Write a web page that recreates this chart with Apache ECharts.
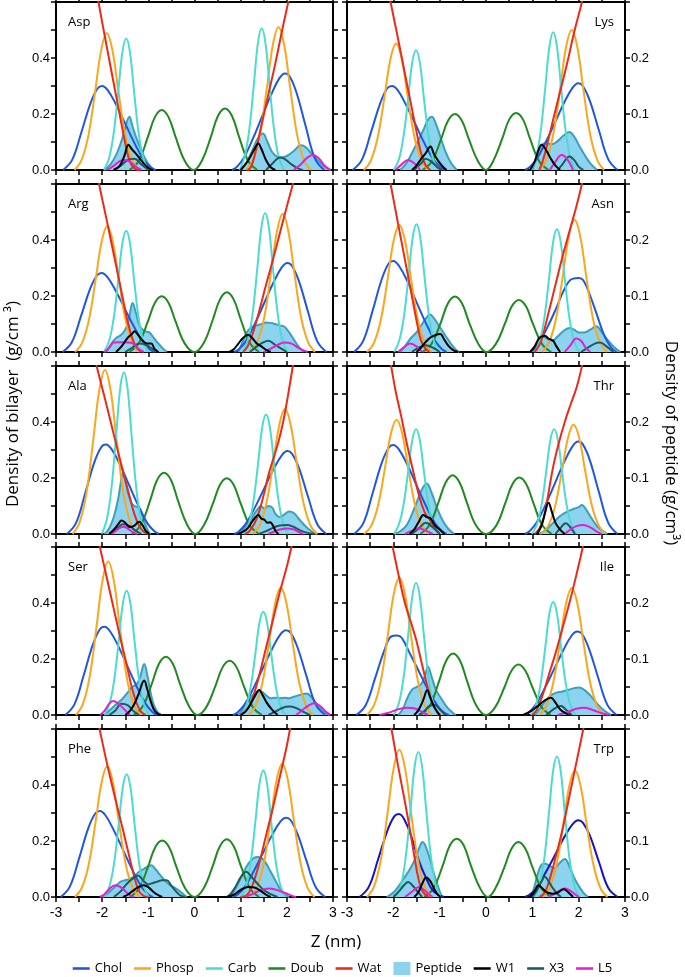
<!DOCTYPE html>
<html><head><meta charset="utf-8">
<script src="https://cdn.jsdelivr.net/npm/echarts@6/dist/echarts.min.js"></script>
<style>html,body{margin:0;padding:0;background:#fff}#c{width:685px;height:977px}</style>
</head><body><div id="c"></div>
<script>
// Panel order: left column / right column, top to bottom
const panelNames = ['Asp','Lys','Arg','Asn','Ala','Thr','Ser','Ile','Phe','Trp'];
const zRange = [-3, 3];
const bilayerRange = [0, 0.6];   // left axis, g/cm3
const peptideRange = [0, 0.3];   // right axis, g/cm3
const legendNames = ['Chol','Phosp','Carb','Doub','Wat','Peptide','W1','X3','L5'];

// Each entry: [left leaflet points, right leaflet points], points = [z (nm), density]
const chol = [
 [[[-2.85,0],[-2.65,0.036],[-2.45,0.135],[-2.25,0.24],[-2.1,0.291],[-2.0,0.3],[-1.88,0.285],[-1.7,0.234],[-1.5,0.165],[-1.3,0.096],[-1.1,0.036],[-0.95,0.009],[-0.85,0]],
  [[0.81,0],[0.91,0.01],[1.06,0.041],[1.26,0.11],[1.46,0.19],[1.66,0.269],[1.84,0.328],[1.96,0.345],[2.06,0.335],[2.21,0.276],[2.41,0.155],[2.61,0.041],[2.81,0]]],
 [[[-2.88,0],[-2.68,0.018],[-2.48,0.068],[-2.28,0.12],[-2.13,0.146],[-2.03,0.15],[-1.91,0.143],[-1.73,0.117],[-1.53,0.083],[-1.33,0.048],[-1.13,0.018],[-0.98,0.005],[-0.88,0]],
  [[0.84,0],[0.94,0.005],[1.09,0.019],[1.29,0.05],[1.49,0.085],[1.69,0.121],[1.87,0.147],[1.99,0.155],[2.09,0.15],[2.24,0.124],[2.44,0.07],[2.64,0.019],[2.84,0]]],
 [[[-2.86,0],[-2.66,0.034],[-2.46,0.127],[-2.26,0.226],[-2.11,0.274],[-2.01,0.282],[-1.89,0.268],[-1.71,0.22],[-1.51,0.155],[-1.31,0.09],[-1.11,0.034],[-0.96,0.008],[-0.86,0]],
  [[0.86,0],[0.96,0.01],[1.11,0.038],[1.31,0.102],[1.51,0.175],[1.71,0.248],[1.89,0.302],[2.01,0.318],[2.11,0.308],[2.26,0.254],[2.46,0.143],[2.66,0.038],[2.86,0]]],
 [[[-2.85,0],[-2.65,0.02],[-2.45,0.073],[-2.25,0.13],[-2.1,0.158],[-2.0,0.1625],[-1.88,0.154],[-1.7,0.127],[-1.5,0.089],[-1.3,0.052],[-1.1,0.02],[-0.95,0.005],[-0.85,0]],
  [[0.95,0],[1.1,0.01],[1.3,0.04],[1.5,0.075],[1.65,0.105],[1.78,0.125],[1.88,0.131],[2.0,0.132],[2.1,0.128],[2.25,0.1],[2.4,0.065],[2.55,0.03],[2.7,0.008],[2.82,0]]],
 [[[-2.77,0],[-2.57,0.038],[-2.37,0.144],[-2.17,0.256],[-2.02,0.31],[-1.92,0.32],[-1.8,0.304],[-1.62,0.25],[-1.42,0.176],[-1.22,0.102],[-1.02,0.038],[-0.87,0.01],[-0.77,0]],
  [[0.86,0],[0.96,0.009],[1.11,0.036],[1.31,0.095],[1.51,0.163],[1.71,0.231],[1.89,0.281],[2.01,0.296],[2.11,0.287],[2.26,0.237],[2.46,0.133],[2.66,0.035],[2.86,0]]],
 [[[-2.85,0],[-2.65,0.019],[-2.45,0.072],[-2.25,0.127],[-2.1,0.154],[-2.0,0.159],[-1.88,0.151],[-1.7,0.124],[-1.5,0.087],[-1.3,0.051],[-1.1,0.019],[-0.95,0.005],[-0.85,0]],
  [[0.84,0],[0.94,0.005],[1.09,0.02],[1.29,0.053],[1.49,0.091],[1.69,0.129],[1.87,0.157],[1.99,0.165],[2.09,0.16],[2.24,0.132],[2.44,0.074],[2.64,0.02],[2.84,0]]],
 [[[-2.8,0],[-2.6,0.038],[-2.4,0.142],[-2.2,0.252],[-2.05,0.306],[-1.95,0.315],[-1.83,0.299],[-1.65,0.246],[-1.45,0.173],[-1.25,0.101],[-1.05,0.038],[-0.9,0.009],[-0.8,0]],
  [[0.83,0],[0.93,0.009],[1.08,0.036],[1.28,0.097],[1.48,0.167],[1.68,0.236],[1.86,0.288],[1.98,0.303],[2.08,0.294],[2.23,0.242],[2.43,0.136],[2.63,0.036],[2.83,0]]],
 [[[-2.8,0],[-2.6,0.017],[-2.4,0.064],[-2.2,0.114],[-2.05,0.14],[-1.92,0.142],[-1.82,0.138],[-1.65,0.111],[-1.45,0.078],[-1.25,0.045],[-1.05,0.017],[-0.9,0.004],[-0.8,0]],
  [[0.82,0],[0.92,0.004],[1.07,0.018],[1.27,0.048],[1.47,0.082],[1.67,0.116],[1.85,0.142],[1.97,0.149],[2.07,0.145],[2.22,0.119],[2.42,0.067],[2.62,0.018],[2.82,0]]],
 [[[-2.9,0],[-2.7,0.037],[-2.5,0.138],[-2.3,0.246],[-2.15,0.298],[-2.05,0.307],[-1.93,0.292],[-1.75,0.239],[-1.55,0.169],[-1.35,0.098],[-1.15,0.037],[-1.0,0.009],[-0.9,0]],
  [[0.83,0],[0.93,0.008],[1.08,0.034],[1.28,0.091],[1.48,0.156],[1.68,0.221],[1.86,0.269],[1.98,0.283],[2.08,0.275],[2.23,0.226],[2.43,0.127],[2.63,0.034],[2.83,0]]],
 [[[-2.73,0],[-2.53,0.018],[-2.33,0.067],[-2.13,0.118],[-1.98,0.144],[-1.88,0.148],[-1.76,0.138],[-1.6,0.105],[-1.45,0.065],[-1.3,0.035],[-1.15,0.012],[-1.0,0.003],[-0.9,0]],
  [[0.84,0],[0.94,0.004],[1.09,0.016],[1.29,0.044],[1.49,0.075],[1.69,0.107],[1.87,0.13],[1.99,0.137],[2.09,0.133],[2.24,0.11],[2.44,0.062],[2.64,0.016],[2.84,0]]]
];

const phosp = [
 [[[-2.6,0],[-2.45,0.034],[-2.3,0.122],[-2.15,0.283],[-2.02,0.429],[-1.9,0.488],[-1.78,0.429],[-1.65,0.283],[-1.5,0.122],[-1.35,0.034],[-1.2,0]],
  [[1.12,0],[1.27,0.036],[1.42,0.128],[1.57,0.296],[1.7,0.449],[1.82,0.51],[1.94,0.449],[2.07,0.296],[2.22,0.128],[2.37,0.036],[2.52,0]]],
 [[[-2.64,0],[-2.49,0.016],[-2.34,0.057],[-2.19,0.131],[-2.06,0.199],[-1.94,0.226],[-1.82,0.199],[-1.69,0.131],[-1.54,0.057],[-1.39,0.016],[-1.24,0]],
  [[1.15,0],[1.3,0.018],[1.45,0.063],[1.6,0.145],[1.73,0.22],[1.85,0.25],[1.97,0.22],[2.1,0.145],[2.25,0.063],[2.4,0.018],[2.55,0]]],
 [[[-2.59,0],[-2.44,0.031],[-2.29,0.112],[-2.14,0.26],[-2.01,0.395],[-1.89,0.449],[-1.77,0.395],[-1.64,0.26],[-1.49,0.112],[-1.34,0.031],[-1.19,0]],
  [[1.21,0],[1.36,0.035],[1.51,0.123],[1.66,0.286],[1.79,0.434],[1.91,0.493],[2.03,0.434],[2.16,0.286],[2.31,0.123],[2.46,0.035],[2.61,0]]],
 [[[-2.57,0],[-2.42,0.016],[-2.27,0.057],[-2.12,0.132],[-1.99,0.2],[-1.87,0.227],[-1.75,0.2],[-1.62,0.132],[-1.47,0.057],[-1.32,0.016],[-1.17,0]],
  [[1.21,0],[1.36,0.017],[1.51,0.059],[1.66,0.137],[1.79,0.208],[1.91,0.236],[2.03,0.208],[2.16,0.137],[2.31,0.059],[2.46,0.017],[2.61,0]]],
 [[[-2.64,0],[-2.49,0.041],[-2.34,0.147],[-2.19,0.34],[-2.06,0.516],[-1.94,0.586],[-1.82,0.516],[-1.69,0.34],[-1.54,0.147],[-1.39,0.041],[-1.24,0]],
  [[1.26,0],[1.41,0.031],[1.56,0.112],[1.71,0.259],[1.84,0.392],[1.96,0.446],[2.08,0.392],[2.21,0.259],[2.36,0.112],[2.51,0.031],[2.66,0]]],
 [[[-2.63,0],[-2.48,0.014],[-2.33,0.051],[-2.18,0.118],[-2.05,0.18],[-1.93,0.204],[-1.81,0.18],[-1.68,0.118],[-1.53,0.051],[-1.38,0.014],[-1.23,0]],
  [[1.19,0],[1.34,0.014],[1.49,0.049],[1.64,0.113],[1.77,0.172],[1.89,0.195],[2.01,0.172],[2.14,0.113],[2.29,0.049],[2.44,0.014],[2.59,0]]],
 [[[-2.57,0],[-2.42,0.038],[-2.27,0.137],[-2.12,0.318],[-1.99,0.482],[-1.87,0.548],[-1.75,0.482],[-1.62,0.318],[-1.47,0.137],[-1.32,0.038],[-1.17,0]],
  [[1.17,0],[1.32,0.032],[1.47,0.114],[1.62,0.264],[1.75,0.4],[1.87,0.455],[1.99,0.4],[2.12,0.264],[2.27,0.114],[2.42,0.032],[2.57,0]]],
 [[[-2.57,0],[-2.42,0.017],[-2.27,0.061],[-2.12,0.142],[-1.99,0.216],[-1.87,0.245],[-1.75,0.216],[-1.62,0.142],[-1.47,0.061],[-1.32,0.017],[-1.17,0]],
  [[1.15,0],[1.3,0.016],[1.45,0.057],[1.6,0.132],[1.73,0.2],[1.85,0.227],[1.97,0.2],[2.1,0.132],[2.25,0.057],[2.4,0.016],[2.55,0]]],
 [[[-2.59,0],[-2.44,0.033],[-2.29,0.117],[-2.14,0.271],[-2.01,0.411],[-1.89,0.467],[-1.77,0.411],[-1.64,0.271],[-1.49,0.117],[-1.34,0.033],[-1.19,0]],
  [[1.2,0],[1.35,0.033],[1.5,0.119],[1.65,0.276],[1.78,0.419],[1.9,0.476],[2.02,0.419],[2.15,0.276],[2.3,0.119],[2.45,0.033],[2.6,0]]],
 [[[-2.57,0],[-2.42,0.018],[-2.27,0.066],[-2.12,0.153],[-1.99,0.231],[-1.87,0.263],[-1.75,0.231],[-1.62,0.153],[-1.47,0.066],[-1.32,0.018],[-1.17,0]],
  [[1.22,0],[1.37,0.016],[1.52,0.057],[1.67,0.131],[1.8,0.199],[1.92,0.226],[2.04,0.199],[2.17,0.131],[2.32,0.057],[2.47,0.016],[2.62,0]]]
];

const carb = [
 [[[-1.96,0],[-1.85,0.042],[-1.75,0.132],[-1.65,0.282],[-1.56,0.423],[-1.48,0.47],[-1.4,0.423],[-1.31,0.282],[-1.21,0.132],[-1.11,0.042],[-1.0,0]],
  [[0.975,0],[1.085,0.046],[1.185,0.142],[1.285,0.304],[1.375,0.455],[1.455,0.506],[1.535,0.455],[1.625,0.304],[1.725,0.142],[1.825,0.046],[1.935,0]]],
 [[[-1.99,0],[-1.88,0.019],[-1.78,0.06],[-1.68,0.128],[-1.59,0.193],[-1.51,0.214],[-1.43,0.193],[-1.34,0.128],[-1.24,0.06],[-1.14,0.019],[-1.03,0]],
  [[0.97,0],[1.08,0.022],[1.18,0.069],[1.28,0.148],[1.37,0.221],[1.45,0.246],[1.53,0.221],[1.62,0.148],[1.72,0.069],[1.82,0.022],[1.93,0]]],
 [[[-1.96,0],[-1.85,0.039],[-1.75,0.121],[-1.65,0.26],[-1.56,0.39],[-1.48,0.433],[-1.4,0.39],[-1.31,0.26],[-1.21,0.121],[-1.11,0.039],[-1.0,0]],
  [[1.05,0],[1.16,0.045],[1.26,0.139],[1.36,0.298],[1.45,0.446],[1.53,0.496],[1.61,0.446],[1.7,0.298],[1.8,0.139],[1.9,0.045],[2.01,0]]],
 [[[-1.98,0],[-1.87,0.021],[-1.77,0.064],[-1.67,0.137],[-1.58,0.205],[-1.5,0.228],[-1.42,0.205],[-1.33,0.137],[-1.23,0.064],[-1.13,0.021],[-1.02,0]],
  [[1.05,0],[1.16,0.02],[1.26,0.061],[1.36,0.131],[1.45,0.197],[1.53,0.219],[1.61,0.197],[1.7,0.131],[1.8,0.061],[1.9,0.02],[2.01,0]]],
 [[[-2.01,0],[-1.9,0.052],[-1.8,0.162],[-1.7,0.346],[-1.61,0.519],[-1.53,0.577],[-1.45,0.519],[-1.36,0.346],[-1.26,0.162],[-1.16,0.052],[-1.05,0]],
  [[1.07,0],[1.18,0.038],[1.28,0.12],[1.38,0.256],[1.47,0.384],[1.55,0.427],[1.63,0.384],[1.72,0.256],[1.82,0.12],[1.92,0.038],[2.03,0]]],
 [[[-1.99,0],[-1.88,0.017],[-1.78,0.052],[-1.68,0.112],[-1.59,0.168],[-1.51,0.187],[-1.43,0.168],[-1.34,0.112],[-1.24,0.052],[-1.14,0.017],[-1.03,0]],
  [[0.99,0],[1.1,0.017],[1.2,0.052],[1.3,0.112],[1.39,0.168],[1.47,0.187],[1.55,0.168],[1.64,0.112],[1.74,0.052],[1.84,0.017],[1.95,0]]],
 [[[-1.95,0],[-1.84,0.04],[-1.74,0.124],[-1.64,0.266],[-1.55,0.4],[-1.47,0.444],[-1.39,0.4],[-1.3,0.266],[-1.2,0.124],[-1.1,0.04],[-0.99,0]],
  [[1.01,0],[1.12,0.033],[1.22,0.103],[1.32,0.221],[1.41,0.332],[1.49,0.369],[1.57,0.332],[1.66,0.221],[1.76,0.103],[1.86,0.033],[1.97,0]]],
 [[[-1.99,0],[-1.88,0.021],[-1.78,0.066],[-1.68,0.142],[-1.59,0.212],[-1.51,0.236],[-1.43,0.212],[-1.34,0.142],[-1.24,0.066],[-1.14,0.021],[-1.03,0]],
  [[0.97,0],[1.08,0.018],[1.18,0.057],[1.28,0.121],[1.37,0.182],[1.45,0.202],[1.53,0.182],[1.62,0.121],[1.72,0.057],[1.82,0.018],[1.93,0]]],
 [[[-1.95,0],[-1.84,0.039],[-1.74,0.123],[-1.64,0.263],[-1.55,0.394],[-1.47,0.438],[-1.39,0.394],[-1.3,0.263],[-1.2,0.123],[-1.1,0.039],[-0.99,0]],
  [[1.01,0],[1.12,0.041],[1.22,0.127],[1.32,0.271],[1.41,0.407],[1.49,0.452],[1.57,0.407],[1.66,0.271],[1.76,0.127],[1.86,0.041],[1.97,0]]],
 [[[-1.94,0],[-1.83,0.023],[-1.73,0.073],[-1.63,0.155],[-1.54,0.233],[-1.46,0.259],[-1.38,0.233],[-1.29,0.155],[-1.19,0.073],[-1.09,0.023],[-0.98,0]],
  [[1.05,0],[1.16,0.023],[1.26,0.07],[1.36,0.151],[1.45,0.226],[1.53,0.251],[1.61,0.226],[1.7,0.151],[1.8,0.07],[1.9,0.023],[2.01,0]]]
];

// Double-bond density: one continuous trace per panel
const doub = [
 [[-1.41,0],[-1.21,0.032],[-1.01,0.118],[-0.86,0.188],[-0.71,0.214],[-0.56,0.188],[-0.41,0.118],[-0.21,0.032],[-0.02,0],[0.16,0.033],[0.36,0.121],[0.51,0.194],[0.66,0.22],[0.81,0.194],[0.96,0.121],[1.16,0.033],[1.36,0]],
 [[-1.37,0],[-1.17,0.015],[-0.97,0.055],[-0.82,0.088],[-0.67,0.1],[-0.52,0.088],[-0.37,0.055],[-0.17,0.015],[0.0,0],[0.15,0.015],[0.35,0.056],[0.5,0.09],[0.65,0.102],[0.8,0.09],[0.95,0.056],[1.15,0.015],[1.35,0]],
 [[-1.41,0],[-1.21,0.03],[-1.01,0.109],[-0.86,0.175],[-0.71,0.199],[-0.56,0.175],[-0.41,0.109],[-0.21,0.03],[0.0,0],[0.2,0.032],[0.4,0.117],[0.55,0.187],[0.7,0.213],[0.85,0.187],[1.0,0.117],[1.2,0.032],[1.4,0]],
 [[-1.37,0],[-1.17,0.015],[-0.97,0.054],[-0.82,0.087],[-0.67,0.099],[-0.52,0.087],[-0.37,0.054],[-0.17,0.015],[0.01,0],[0.21,0.014],[0.41,0.051],[0.56,0.082],[0.71,0.093],[0.86,0.082],[1.01,0.051],[1.21,0.014],[1.41,0]],
 [[-1.36,0],[-1.16,0.033],[-0.96,0.12],[-0.81,0.193],[-0.66,0.219],[-0.51,0.193],[-0.36,0.12],[-0.16,0.033],[0.02,0],[0.2,0.03],[0.4,0.109],[0.55,0.175],[0.7,0.199],[0.85,0.175],[1.0,0.109],[1.2,0.03],[1.4,0]],
 [[-1.42,0],[-1.22,0.016],[-1.02,0.058],[-0.87,0.092],[-0.72,0.105],[-0.57,0.092],[-0.42,0.058],[-0.22,0.016],[0.0,0],[0.22,0.015],[0.42,0.056],[0.57,0.089],[0.72,0.101],[0.87,0.089],[1.02,0.056],[1.22,0.015],[1.42,0]],
 [[-1.32,0],[-1.12,0.031],[-0.92,0.114],[-0.77,0.183],[-0.62,0.208],[-0.47,0.183],[-0.32,0.114],[-0.12,0.031],[0.06,0],[0.26,0.029],[0.46,0.107],[0.61,0.171],[0.76,0.194],[0.91,0.171],[1.06,0.107],[1.26,0.029],[1.46,0]],
 [[-1.41,0],[-1.21,0.017],[-1.01,0.061],[-0.86,0.097],[-0.71,0.11],[-0.56,0.097],[-0.41,0.061],[-0.21,0.017],[0.0,0],[0.2,0.014],[0.4,0.05],[0.55,0.079],[0.7,0.09],[0.85,0.079],[1.0,0.05],[1.2,0.014],[1.4,0]],
 [[-1.4,0],[-1.2,0.03],[-1.0,0.111],[-0.85,0.178],[-0.7,0.202],[-0.55,0.178],[-0.4,0.111],[-0.2,0.03],[0.0,0],[0.2,0.031],[0.4,0.113],[0.55,0.181],[0.7,0.206],[0.85,0.181],[1.0,0.113],[1.2,0.031],[1.4,0]],
 [[-1.33,0],[-1.13,0.016],[-0.93,0.057],[-0.78,0.092],[-0.63,0.104],[-0.48,0.092],[-0.33,0.057],[-0.13,0.016],[0.04,0],[0.2,0.015],[0.4,0.054],[0.55,0.086],[0.7,0.098],[0.85,0.086],[1.0,0.054],[1.2,0.015],[1.4,0]]
];

const wat = [
 [[[-2.18,0.7],[-2.08,0.6],[-1.9,0.44],[-1.75,0.31],[-1.6,0.18],[-1.48,0.08],[-1.4,0.03],[-1.3,0.005],[-1.2,0]],
  [[1.15,0],[1.22,0.01],[1.3,0.05],[1.45,0.16],[1.6,0.27],[1.75,0.38],[1.9,0.5],[2.05,0.615],[2.15,0.7]]],
 [[[-2.16,0.34],[-2.06,0.3],[-1.9,0.235],[-1.75,0.172],[-1.6,0.11],[-1.48,0.06],[-1.4,0.03],[-1.3,0.008],[-1.2,0]],
  [[1.15,0],[1.22,0.015],[1.31,0.042],[1.45,0.09],[1.6,0.14],[1.75,0.19],[1.9,0.245],[2.07,0.3],[2.17,0.34]]],
 [[[-2.15,0.67],[-2.05,0.586],[-1.9,0.47],[-1.75,0.35],[-1.6,0.23],[-1.45,0.11],[-1.35,0.05],[-1.25,0.015],[-1.15,0]],
  [[1.05,0],[1.15,0.02],[1.25,0.06],[1.38,0.133],[1.55,0.24],[1.7,0.33],[1.85,0.425],[2.0,0.52],[2.13,0.6],[2.23,0.67]]],
 [[[-2.16,0.34],[-2.06,0.3],[-1.9,0.23],[-1.75,0.165],[-1.6,0.1],[-1.48,0.048],[-1.4,0.02],[-1.3,0.005],[-1.22,0]],
  [[1.05,0],[1.12,0.008],[1.2,0.022],[1.35,0.07],[1.5,0.12],[1.65,0.17],[1.8,0.215],[1.95,0.26],[2.07,0.3],[2.17,0.34]]],
 [[[-2.22,0.67],[-2.12,0.6],[-1.95,0.49],[-1.8,0.39],[-1.65,0.29],[-1.51,0.2],[-1.4,0.13],[-1.3,0.07],[-1.2,0.03],[-1.1,0.008],[-1.0,0]],
  [[1.1,0],[1.2,0.012],[1.35,0.056],[1.5,0.14],[1.6,0.21],[1.71,0.27],[1.82,0.33],[1.92,0.4],[2.02,0.49],[2.13,0.6],[2.2,0.68]]],
 [[[-2.15,0.34],[-2.07,0.31],[-1.95,0.255],[-1.83,0.21],[-1.71,0.162],[-1.58,0.115],[-1.45,0.07],[-1.33,0.04],[-1.21,0.025],[-1.1,0.01],[-1.0,0]],
  [[1.05,0],[1.15,0.01],[1.25,0.03],[1.31,0.055],[1.45,0.12],[1.58,0.165],[1.7,0.2],[1.82,0.23],[1.96,0.263],[2.1,0.31],[2.2,0.345]]],
 [[[-2.15,0.67],[-2.05,0.6],[-1.9,0.49],[-1.75,0.38],[-1.6,0.27],[-1.47,0.18],[-1.36,0.1],[-1.26,0.045],[-1.16,0.012],[-1.06,0]],
  [[1.0,0],[1.1,0.012],[1.18,0.03],[1.27,0.065],[1.4,0.14],[1.55,0.24],[1.7,0.34],[1.85,0.44],[2.0,0.53],[2.1,0.6],[2.2,0.67]]],
 [[[-2.12,0.34],[-2.04,0.31],[-1.9,0.255],[-1.75,0.2],[-1.6,0.16],[-1.5,0.132],[-1.38,0.09],[-1.26,0.05],[-1.15,0.02],[-1.06,0.007],[-0.98,0]],
  [[1.0,0],[1.1,0.01],[1.22,0.035],[1.35,0.07],[1.5,0.11],[1.65,0.155],[1.8,0.2],[1.95,0.25],[2.09,0.3],[2.18,0.335]]],
 [[[-2.15,0.67],[-2.05,0.595],[-1.9,0.48],[-1.69,0.333],[-1.55,0.24],[-1.42,0.15],[-1.3,0.07],[-1.2,0.02],[-1.1,0.004],[-1.0,0]],
  [[1.0,0],[1.13,0.006],[1.25,0.04],[1.4,0.12],[1.55,0.22],[1.7,0.32],[1.85,0.43],[2.0,0.54],[2.07,0.6],[2.15,0.66]]],
 [[[-2.12,0.335],[-2.04,0.3],[-1.9,0.235],[-1.75,0.17],[-1.6,0.1],[-1.5,0.05],[-1.4,0.015],[-1.3,0.003],[-1.22,0]],
  [[1.15,0],[1.25,0.006],[1.35,0.025],[1.5,0.07],[1.65,0.12],[1.8,0.18],[1.95,0.24],[2.1,0.3],[2.18,0.335]]]
];

const peptide = [
 [[[-1.95,0],[-1.82,0.02],[-1.68,0.06],[-1.55,0.12],[-1.47,0.17],[-1.41,0.19],[-1.35,0.16],[-1.25,0.11],[-1.15,0.07],[-1.05,0.035],[-0.95,0.012],[-0.85,0]],
  [[1.0,0],[1.12,0.025],[1.25,0.07],[1.38,0.115],[1.48,0.13],[1.58,0.1],[1.7,0.06],[1.85,0.045],[2.0,0.05],[2.15,0.068],[2.3,0.088],[2.42,0.08],[2.55,0.055],[2.7,0.03],[2.85,0.008],[2.95,0]]],
 [[[-1.85,0],[-1.72,0.012],[-1.6,0.03],[-1.48,0.05],[-1.36,0.07],[-1.25,0.09],[-1.17,0.095],[-1.08,0.082],[-0.98,0.058],[-0.87,0.032],[-0.75,0.012],[-0.63,0]],
  [[1.0,0],[1.08,0.02],[1.18,0.042],[1.3,0.048],[1.42,0.046],[1.55,0.052],[1.68,0.062],[1.8,0.068],[1.9,0.06],[2.0,0.045],[2.12,0.028],[2.25,0.012],[2.4,0]]],
 [[[-1.9,0],[-1.8,0.03],[-1.7,0.05],[-1.6,0.06],[-1.5,0.08],[-1.42,0.12],[-1.34,0.175],[-1.27,0.14],[-1.18,0.09],[-1.08,0.075],[-0.98,0.07],[-0.88,0.05],[-0.78,0.03],[-0.68,0.012],[-0.6,0]],
  [[0.95,0],[1.05,0.04],[1.15,0.075],[1.25,0.09],[1.35,0.095],[1.45,0.1],[1.55,0.105],[1.65,0.104],[1.75,0.1],[1.85,0.095],[1.95,0.09],[2.05,0.07],[2.15,0.045],[2.25,0.02],[2.36,0]]],
 [[[-1.85,0],[-1.75,0.01],[-1.62,0.025],[-1.5,0.035],[-1.38,0.05],[-1.28,0.062],[-1.21,0.067],[-1.12,0.06],[-1.0,0.045],[-0.88,0.03],[-0.76,0.015],[-0.65,0.004],[-0.58,0]],
  [[1.0,0],[1.1,0.015],[1.2,0.028],[1.3,0.025],[1.42,0.02],[1.55,0.028],[1.68,0.038],[1.8,0.043],[1.9,0.04],[2.0,0.035],[2.12,0.035],[2.25,0.04],[2.38,0.046],[2.5,0.035],[2.62,0.022],[2.75,0.01],[2.9,0]]],
 [[[-1.95,0],[-1.85,0.02],[-1.75,0.06],[-1.66,0.12],[-1.6,0.18],[-1.56,0.217],[-1.5,0.19],[-1.43,0.14],[-1.36,0.11],[-1.3,0.1],[-1.22,0.095],[-1.15,0.08],[-1.08,0.04],[-1.0,0.01],[-0.95,0]],
  [[0.95,0],[1.05,0.015],[1.15,0.035],[1.25,0.06],[1.35,0.085],[1.44,0.1],[1.52,0.09],[1.6,0.1],[1.68,0.095],[1.76,0.07],[1.85,0.06],[1.95,0.07],[2.05,0.08],[2.15,0.075],[2.28,0.05],[2.42,0.025],[2.55,0.008],[2.65,0]]],
 [[[-1.97,0],[-1.85,0.005],[-1.72,0.015],[-1.6,0.035],[-1.48,0.06],[-1.38,0.08],[-1.28,0.09],[-1.18,0.075],[-1.05,0.045],[-0.92,0.022],[-0.8,0.008],[-0.68,0]],
  [[1.15,0],[1.3,0.008],[1.45,0.02],[1.6,0.032],[1.75,0.04],[1.9,0.045],[2.0,0.048],[2.07,0.052],[2.15,0.045],[2.28,0.028],[2.42,0.012],[2.55,0.004],[2.62,0]]],
 [[[-1.95,0],[-1.85,0.015],[-1.75,0.03],[-1.65,0.045],[-1.55,0.06],[-1.45,0.08],[-1.35,0.1],[-1.25,0.11],[-1.17,0.14],[-1.09,0.182],[-1.02,0.14],[-0.95,0.08],[-0.88,0.035],[-0.8,0.01],[-0.72,0]],
  [[0.95,0],[1.05,0.02],[1.15,0.045],[1.25,0.07],[1.35,0.08],[1.45,0.083],[1.55,0.07],[1.65,0.06],[1.75,0.062],[1.85,0.06],[1.95,0.062],[2.05,0.06],[2.15,0.065],[2.25,0.07],[2.35,0.075],[2.43,0.077],[2.55,0.06],[2.67,0.035],[2.8,0.012],[2.92,0]]],
 [[[-1.9,0],[-1.8,0.01],[-1.7,0.03],[-1.6,0.045],[-1.5,0.05],[-1.4,0.055],[-1.32,0.07],[-1.25,0.086],[-1.18,0.07],[-1.08,0.045],[-0.97,0.03],[-0.85,0.015],[-0.72,0.004],[-0.65,0]],
  [[1.05,0],[1.15,0.01],[1.28,0.025],[1.4,0.035],[1.52,0.04],[1.65,0.042],[1.78,0.045],[1.9,0.048],[2.0,0.049],[2.12,0.045],[2.25,0.035],[2.4,0.02],[2.55,0.008],[2.7,0]]],
 [[[-2.0,0],[-1.9,0.01],[-1.8,0.025],[-1.7,0.04],[-1.6,0.055],[-1.5,0.06],[-1.4,0.065],[-1.3,0.075],[-1.2,0.09],[-1.1,0.1],[-1.0,0.11],[-0.93,0.113],[-0.85,0.1],[-0.75,0.08],[-0.65,0.06],[-0.55,0.045],[-0.45,0.035],[-0.35,0.025],[-0.25,0.012],[-0.17,0]],
  [[0.75,0],[0.85,0.02],[0.95,0.05],[1.05,0.085],[1.15,0.115],[1.25,0.135],[1.35,0.143],[1.45,0.14],[1.55,0.12],[1.65,0.09],[1.75,0.06],[1.85,0.03],[1.95,0.01],[2.05,0]]],
 [[[-2.14,0],[-2.0,0.008],[-1.88,0.02],[-1.76,0.035],[-1.64,0.05],[-1.52,0.07],[-1.43,0.09],[-1.37,0.098],[-1.3,0.09],[-1.2,0.065],[-1.1,0.035],[-1.0,0.01],[-0.95,0]],
  [[0.98,0],[1.05,0.02],[1.13,0.045],[1.2,0.058],[1.27,0.06],[1.38,0.055],[1.48,0.052],[1.58,0.06],[1.7,0.068],[1.8,0.055],[1.9,0.035],[2.0,0.02],[2.1,0.008],[2.2,0]]]
];

const w1 = [
 [[[-1.75,0],[-1.62,0.015],[-1.52,0.05],[-1.43,0.09],[-1.36,0.075],[-1.28,0.06],[-1.18,0.04],[-1.08,0.02],[-0.98,0.005],[-0.9,0]],
  [[1.0,0],[1.1,0.02],[1.2,0.045],[1.3,0.075],[1.38,0.095],[1.45,0.075],[1.55,0.035],[1.65,0.01],[1.75,0]]],
 [[[-1.6,0],[-1.5,0.008],[-1.4,0.02],[-1.3,0.03],[-1.2,0.042],[-1.12,0.028],[-1.02,0.015],[-0.92,0.005],[-0.85,0]],
  [[0.95,0],[1.05,0.015],[1.13,0.035],[1.2,0.045],[1.3,0.035],[1.4,0.02],[1.5,0.008],[1.6,0]]],
 [[[-1.7,0],[-1.58,0.02],[-1.45,0.05],[-1.35,0.065],[-1.3,0.074],[-1.22,0.06],[-1.12,0.04],[-1.02,0.03],[-0.94,0.03],[-0.86,0.01],[-0.78,0]],
  [[0.75,0],[0.85,0.01],[0.95,0.03],[1.05,0.05],[1.16,0.062],[1.25,0.05],[1.35,0.03],[1.45,0.02],[1.55,0.008],[1.65,0]]],
 [[[-1.5,0],[-1.4,0.008],[-1.3,0.018],[-1.2,0.026],[-1.1,0.03],[-0.99,0.032],[-0.9,0.022],[-0.8,0.01],[-0.7,0.003],[-0.6,0]],
  [[0.95,0],[1.05,0.01],[1.15,0.025],[1.27,0.029],[1.35,0.024],[1.45,0.02],[1.52,0.01],[1.6,0]]],
 [[[-1.85,0],[-1.75,0.015],[-1.65,0.035],[-1.58,0.048],[-1.5,0.04],[-1.4,0.025],[-1.3,0.03],[-1.2,0.044],[-1.12,0.03],[-1.05,0.01],[-0.98,0]],
  [[0.95,0],[1.05,0.008],[1.15,0.02],[1.25,0.045],[1.32,0.06],[1.38,0.068],[1.45,0.055],[1.52,0.05],[1.58,0.04],[1.64,0.042],[1.7,0.03],[1.76,0.01],[1.82,0]]],
 [[[-1.65,0],[-1.55,0.008],[-1.45,0.022],[-1.35,0.034],[-1.28,0.03],[-1.2,0.028],[-1.1,0.015],[-1.0,0.008],[-0.9,0]],
  [[1.1,0],[1.2,0.015],[1.28,0.04],[1.35,0.056],[1.42,0.04],[1.5,0.02],[1.6,0.008],[1.7,0]]],
 [[[-1.5,0],[-1.4,0.015],[-1.3,0.04],[-1.2,0.08],[-1.09,0.123],[-1.02,0.09],[-0.95,0.05],[-0.88,0.02],[-0.8,0.005],[-0.72,0]],
  [[1.0,0],[1.1,0.012],[1.2,0.035],[1.3,0.065],[1.4,0.089],[1.48,0.07],[1.56,0.045],[1.65,0.025],[1.72,0.012],[1.8,0]]],
 [[[-1.55,0],[-1.45,0.01],[-1.35,0.028],[-1.27,0.044],[-1.2,0.03],[-1.12,0.015],[-1.05,0.005],[-1.0,0]],
  [[0.8,0],[0.95,0.006],[1.1,0.015],[1.25,0.025],[1.4,0.031],[1.5,0.022],[1.6,0.01],[1.7,0.004],[1.8,0]]],
 [[[-1.55,0],[-1.45,0.008],[-1.35,0.02],[-1.22,0.035],[-1.1,0.042],[-1.0,0.035],[-0.9,0.02],[-0.8,0.008],[-0.7,0]],
  [[0.7,0],[0.85,0.008],[1.0,0.025],[1.16,0.036],[1.3,0.034],[1.45,0.02],[1.55,0.008],[1.65,0]]],
 [[[-1.55,0],[-1.45,0.01],[-1.37,0.025],[-1.29,0.035],[-1.2,0.028],[-1.12,0.015],[-1.05,0.005],[-0.98,0]],
  [[0.95,0],[1.05,0.01],[1.13,0.021],[1.22,0.015],[1.32,0.008],[1.45,0.006],[1.55,0.008],[1.68,0.014],[1.78,0.008],[1.88,0]]]
];

const x3 = [
 [[[-1.75,0],[-1.6,0.015],[-1.45,0.035],[-1.3,0.04],[-1.15,0.02],[-1.0,0]],
  [[1.55,0],[1.7,0.025],[1.85,0.045],[1.95,0.04],[2.1,0.02],[2.25,0.005],[2.35,0]]],
 [[[-1.55,0],[-1.42,0.01],[-1.3,0.02],[-1.18,0.015],[-1.05,0.005],[-0.95,0]],
  [[1.55,0],[1.65,0.01],[1.8,0.024],[1.9,0.018],[2.0,0.006],[2.1,0]]],
 [[[-1.5,0],[-1.35,0.015],[-1.2,0.03],[-1.05,0.025],[-0.9,0.01],[-0.8,0]],
  [[1.2,0],[1.35,0.02],[1.5,0.035],[1.6,0.04],[1.75,0.025],[1.9,0.01],[2.0,0]]],
 [[[-1.6,0],[-1.45,0.008],[-1.3,0.012],[-1.15,0.008],[-1.0,0]],
  [[2.05,0],[2.2,0.008],[2.35,0.015],[2.46,0.017],[2.6,0.01],[2.75,0]]],
 [[[-1.85,0],[-1.7,0.015],[-1.55,0.035],[-1.42,0.03],[-1.3,0.015],[-1.15,0]],
  [[1.4,0],[1.55,0.01],[1.7,0.022],[1.85,0.03],[2.0,0.032],[2.15,0.025],[2.3,0.012],[2.45,0.004],[2.6,0]]],
 [[[-1.6,0],[-1.45,0.01],[-1.3,0.02],[-1.15,0.012],[-1.0,0]],
  [[1.5,0],[1.6,0.01],[1.72,0.019],[1.82,0.012],[1.92,0]]],
 [[[-1.85,0],[-1.72,0.015],[-1.58,0.04],[-1.45,0.035],[-1.33,0.015],[-1.2,0]],
  [[1.6,0],[1.75,0.012],[1.9,0.025],[2.05,0.03],[2.2,0.025],[2.35,0.012],[2.5,0]]],
 [[[-1.45,0],[-1.32,0.008],[-1.2,0.017],[-1.1,0.018],[-1.0,0.01],[-0.88,0]],
  [[1.3,0],[1.42,0.008],[1.55,0.015],[1.62,0.016],[1.72,0.01],[1.85,0]]],
 [[[-1.75,0],[-1.6,0.02],[-1.45,0.05],[-1.3,0.07],[-1.22,0.077],[-1.12,0.06],[-1.0,0.045],[-0.9,0.05],[-0.8,0.055],[-0.7,0.06],[-0.6,0.06],[-0.5,0.04],[-0.4,0.02],[-0.3,0.005],[-0.2,0]],
  [[0.7,0],[0.8,0.015],[0.9,0.04],[1.0,0.07],[1.12,0.09],[1.22,0.075],[1.35,0.05],[1.5,0.025],[1.65,0.01],[1.8,0]]],
 [[[-2.0,0],[-1.88,0.01],[-1.76,0.022],[-1.68,0.027],[-1.58,0.02],[-1.48,0.01],[-1.38,0]],
  [[1.0,0],[1.1,0.012],[1.2,0.028],[1.27,0.036],[1.35,0.028],[1.45,0.015],[1.55,0.005],[1.62,0]]]
];

const l5 = [
 [[[-1.9,0],[-1.75,0.015],[-1.6,0.033],[-1.5,0.036],[-1.4,0.03],[-1.28,0.012],[-1.15,0]],
  [[2.15,0],[2.3,0.02],[2.45,0.045],[2.57,0.054],[2.7,0.04],[2.82,0.015],[2.95,0]]],
 [[[-1.95,0],[-1.82,0.01],[-1.68,0.018],[-1.55,0.012],[-1.42,0]],
  [[1.38,0],[1.5,0.015],[1.63,0.027],[1.75,0.02],[1.88,0]]],
 [[[-1.95,0],[-1.85,0.015],[-1.75,0.034],[-1.6,0.035],[-1.45,0.034],[-1.33,0.03],[-1.2,0.01],[-1.1,0]],
  [[1.5,0],[1.65,0.012],[1.8,0.025],[1.95,0.034],[2.1,0.03],[2.25,0.015],[2.45,0]]],
 [[[-1.9,0],[-1.78,0.008],[-1.64,0.015],[-1.5,0.01],[-1.38,0]],
  [[1.7,0],[1.82,0.012],[1.95,0.024],[2.05,0.02],[2.15,0.008],[2.25,0]]],
 [[[-1.8,0],[-1.7,0.012],[-1.6,0.024],[-1.53,0.026],[-1.45,0.02],[-1.35,0.008],[-1.25,0]],
  [[1.6,0],[1.72,0.008],[1.85,0.016],[2.0,0.02],[2.12,0.018],[2.25,0.008],[2.35,0]]],
 [[[-1.75,0],[-1.6,0.006],[-1.45,0.01],[-1.3,0.006],[-1.15,0]],
  [[1.7,0],[1.82,0.008],[1.95,0.014],[2.1,0.016],[2.25,0.012],[2.4,0.004],[2.5,0]]],
 [[[-2.05,0],[-1.95,0.015],[-1.85,0.04],[-1.76,0.05],[-1.65,0.04],[-1.52,0.02],[-1.4,0]],
  [[2.2,0],[2.32,0.015],[2.45,0.032],[2.6,0.042],[2.72,0.032],[2.85,0.012],[2.95,0]]],
 [[[-2.3,0],[-2.1,0.004],[-1.9,0.01],[-1.7,0.013],[-1.55,0.012],[-1.4,0.006],[-1.25,0]],
  [[1.55,0],[1.75,0.005],[1.95,0.011],[2.12,0.013],[2.3,0.009],[2.5,0.003],[2.65,0]]],
 [[[-2.05,0],[-1.95,0.01],[-1.85,0.028],[-1.72,0.042],[-1.6,0.035],[-1.48,0.018],[-1.38,0.005],[-1.3,0]],
  [[1.1,0],[1.25,0.01],[1.4,0.022],[1.6,0.03],[1.75,0.027],[1.95,0.015],[2.1,0.005],[2.2,0]]],
 [[[-1.75,0],[-1.62,0.008],[-1.5,0.016],[-1.43,0.018],[-1.33,0.012],[-1.22,0.004],[-1.15,0]],
  [[1.35,0],[1.48,0.006],[1.6,0.012],[1.7,0.015],[1.8,0.012],[1.92,0.005],[2.0,0]]]
];

// ---------- build ----------
function joinPieces(p){
  if (typeof p[0][0] === 'number') return p;          // already one trace
  const a = p[0], b = p[1];
  return a.concat([[ (a[a.length-1][0] + b[0][0]) / 2, null ]], b);
}

const seriesDefs = [
  {name:'Peptide', src:peptide, color:'#3d9fb9', area:'#8cd3f0'},
  {name:'Doub',  src:doub,  color:'#1f8a1f'},
  {name:'Chol',  src:chol,  color:'#1f56e2'},
  {name:'Phosp', src:phosp, color:'#fba61c'},
  {name:'Carb',  src:carb,  color:'#4bdccf'},
  {name:'Wat',   src:wat,   color:'#ec2a1a'},
  {name:'X3',    src:x3,    color:'#1d5a5c'},
  {name:'L5',    src:l5,    color:'#e51fcf'},
  {name:'W1',    src:w1,    color:'#000000'}
];

const rowTops = [2,184,366,547,729];
const grids = [], xAxes = [], yAxes = [], series = [], graphics = [];
const FONT = '"Liberation Sans", Arial, sans-serif';

panelNames.forEach((pname, i) => {
  const col = i % 2, row = Math.floor(i / 2), isRight = col === 1;
  const top = rowTops[row];
  grids.push({left: isRight ? 347 : 56, top: top, width: isRight ? 278 : 277, height: 168});
  const axLine = {show:true, onZero:false, lineStyle:{color:'#000', width:2}};
  const tick = {show:true, inside:false, length:5, lineStyle:{color:'#000', width:1.5}};
  const minor = {show:true, splitNumber:2, length:5, lineStyle:{color:'#000', width:1.5}};
  xAxes.push({gridIndex:i, type:'value', min:zRange[0], max:zRange[1], interval:1, position:'bottom',
    axisLine:axLine, axisTick:tick, minorTick:minor, splitLine:{show:false}, minorSplitLine:{show:false},
    axisLabel:{show: row === 4, fontSize:14, color:'#000', margin:9, fontFamily:FONT}});
  xAxes.push({gridIndex:i, type:'value', min:zRange[0], max:zRange[1], interval:1, position:'top',
    axisLine:axLine, axisTick:tick, minorTick:minor, splitLine:{show:false}, axisLabel:{show:false}});
  const yr = isRight ? peptideRange : bilayerRange;
  const yint = isRight ? 0.1 : 0.2;
  yAxes.push({gridIndex:i, type:'value', min:yr[0], max:yr[1], interval:yint, position: isRight ? 'right' : 'left',
    axisLine:axLine, axisTick:tick, minorTick:minor, splitLine:{show:false},
    axisLabel:{show:true, showMaxLabel:false, formatter:v => v.toFixed(1), fontSize:13, color:'#000', margin:6, fontFamily:FONT}});
  yAxes.push({gridIndex:i, type:'value', min:yr[0], max:yr[1], interval:yint, position: isRight ? 'left' : 'right',
    axisLine:axLine, axisTick:tick, minorTick:minor, splitLine:{show:false}, axisLabel:{show:false}});

  seriesDefs.forEach(d => {
    const s = {type:'line', name:d.name, xAxisIndex:2*i, yAxisIndex:2*i, data: joinPieces(d.src[i]),
      symbol:'none', smooth:0.4, connectNulls:false, animation:false,
      lineStyle:{color: (d.name === 'Chol' && pname === 'Trp') ? '#1414c8' : d.color, width:2},
      itemStyle:{color:d.color}};
    if (d.area) s.areaStyle = {color:d.area, opacity:1};
    series.push(s);
  });

  graphics.push({type:'text', x: isRight ? 614 : 68, y: top + 20,
    style:{text:pname, fill:'#000', font:'13px "Open Sans", sans-serif', textAlign: isRight ? 'right' : 'left', textVerticalAlign:'middle'}});
});

graphics.push({type:'text', x:13, y:404, rotation:Math.PI/2,
  style:{text:'Density of bilayer  (g/cm \u00b3)', fill:'#000', font:'17px "Open Sans", sans-serif', textAlign:'center', textVerticalAlign:'middle'}});
graphics.push({type:'text', x:671, y:443, rotation:-Math.PI/2,
  style:{text:'Density of peptide (g/cm\u00b3)', fill:'#000', font:'17px "Open Sans", sans-serif', textAlign:'center', textVerticalAlign:'middle'}});
graphics.push({type:'text', x:336, y:942,
  style:{text:'Z (nm)', fill:'#000', font:'17px "Open Sans", sans-serif', textAlign:'center', textVerticalAlign:'middle'}});

// legend line icon: a 3px bar inside an invisible 20x14 box
const lineIcon = 'path://M0,0M0,5.5L20,5.5L20,8.5L0,8.5ZM20,14';
const chart = echarts.init(document.getElementById('c'), null, {renderer:'canvas'});
chart.setOption({
  backgroundColor:'#fff',
  animation:false,
  grid:grids, xAxis:xAxes, yAxis:yAxes, series:series, graphic:graphics,
  legend:{
    left:'center', top:957, itemGap:12, itemWidth:17, itemHeight:13, selectedMode:false,
    textStyle:{fontSize:13, color:'#000', fontFamily:'"Open Sans", sans-serif'},
    data: legendNames.map(n => n === 'Peptide'
      ? {name:n, icon:'rect', itemStyle:{color:'#8cd3f0', borderWidth:0}}
      : {name:n, icon:lineIcon})
  }
});
</script></body></html>
